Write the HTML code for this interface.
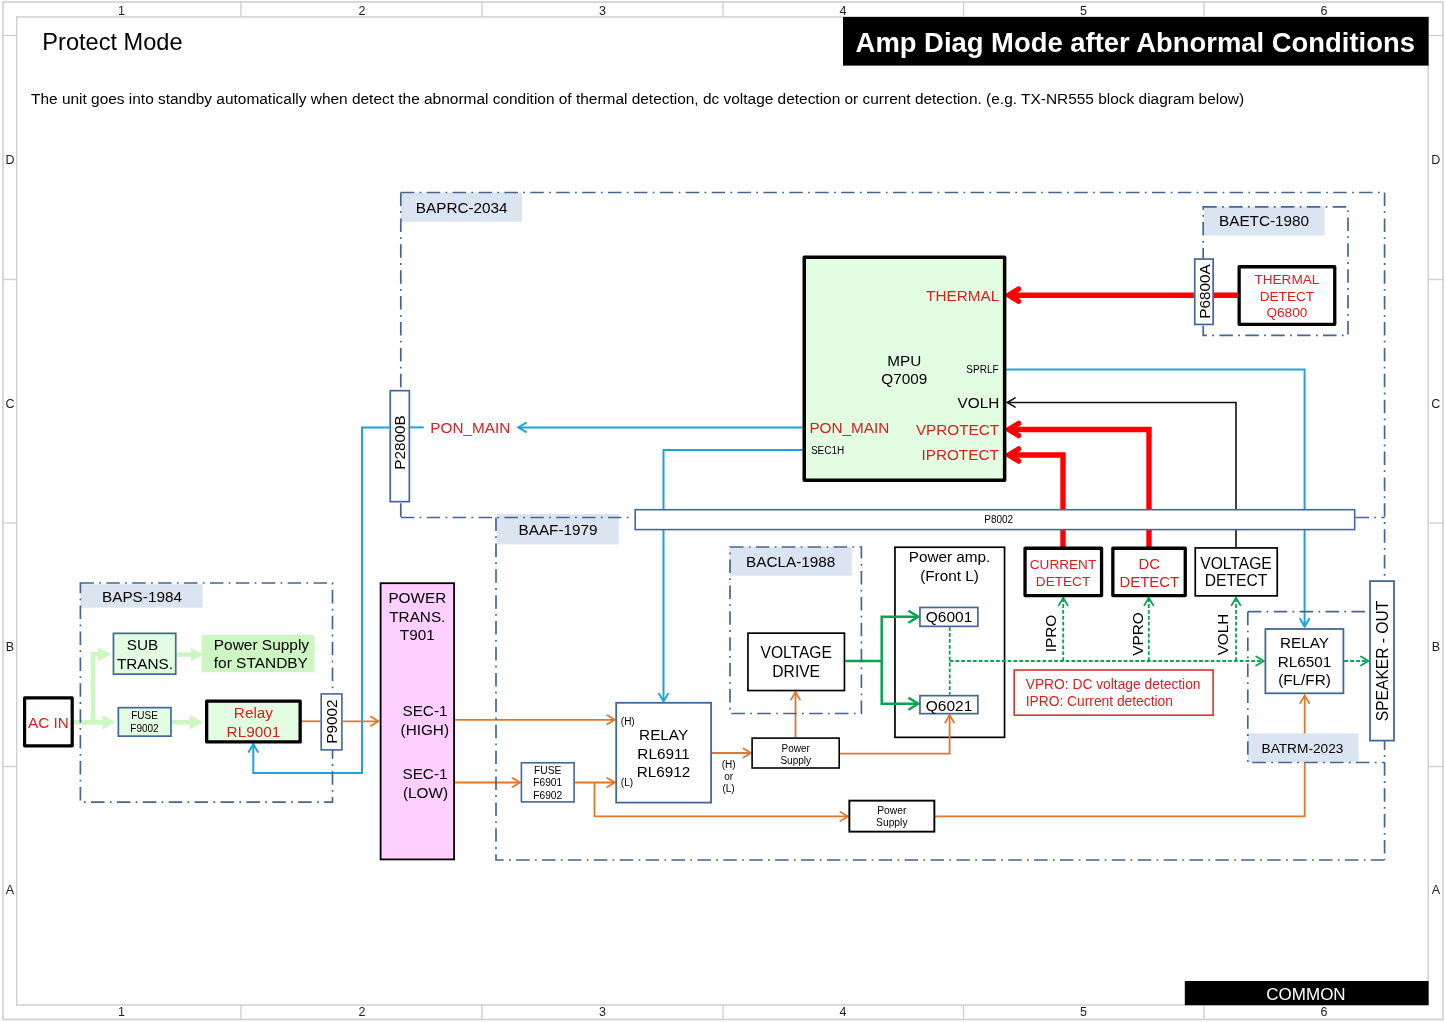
<!DOCTYPE html>
<html><head><meta charset="utf-8"><title>Protect Mode</title>
<style>
html,body{margin:0;padding:0;background:#fff;width:1445px;height:1022px;overflow:hidden;}
svg{display:block;will-change:transform;}
text{font-family:"Liberation Sans", sans-serif;}
</style></head><body>
<svg width="1445" height="1022" viewBox="0 0 1445 1022">
<rect x="0" y="0" width="1445" height="1022" fill="#fff"/>

<rect x="3.00" y="2.00" width="1440.00" height="1017.50" fill="none" stroke="#d0d0d0" stroke-width="1.6" />
<rect x="16.70" y="16.90" width="1411.50" height="988.10" fill="none" stroke="#d0d0d0" stroke-width="1.5" />
<line x1="241" y1="2" x2="241" y2="16.9" stroke="#d0d0d0" stroke-width="1.4"/>
<line x1="241" y1="1005" x2="241" y2="1019.5" stroke="#d0d0d0" stroke-width="1.4"/>
<line x1="482" y1="2" x2="482" y2="16.9" stroke="#d0d0d0" stroke-width="1.4"/>
<line x1="482" y1="1005" x2="482" y2="1019.5" stroke="#d0d0d0" stroke-width="1.4"/>
<line x1="723" y1="2" x2="723" y2="16.9" stroke="#d0d0d0" stroke-width="1.4"/>
<line x1="723" y1="1005" x2="723" y2="1019.5" stroke="#d0d0d0" stroke-width="1.4"/>
<line x1="963.5" y1="2" x2="963.5" y2="16.9" stroke="#d0d0d0" stroke-width="1.4"/>
<line x1="963.5" y1="1005" x2="963.5" y2="1019.5" stroke="#d0d0d0" stroke-width="1.4"/>
<line x1="1204" y1="2" x2="1204" y2="16.9" stroke="#d0d0d0" stroke-width="1.4"/>
<line x1="1204" y1="1005" x2="1204" y2="1019.5" stroke="#d0d0d0" stroke-width="1.4"/>
<line x1="3" y1="35.5" x2="16.7" y2="35.5" stroke="#d0d0d0" stroke-width="1.4"/>
<line x1="1428.6" y1="35.5" x2="1443" y2="35.5" stroke="#d0d0d0" stroke-width="1.4"/>
<line x1="3" y1="279.5" x2="16.7" y2="279.5" stroke="#d0d0d0" stroke-width="1.4"/>
<line x1="1428.6" y1="279.5" x2="1443" y2="279.5" stroke="#d0d0d0" stroke-width="1.4"/>
<line x1="3" y1="523" x2="16.7" y2="523" stroke="#d0d0d0" stroke-width="1.4"/>
<line x1="1428.6" y1="523" x2="1443" y2="523" stroke="#d0d0d0" stroke-width="1.4"/>
<line x1="3" y1="766.5" x2="16.7" y2="766.5" stroke="#d0d0d0" stroke-width="1.4"/>
<line x1="1428.6" y1="766.5" x2="1443" y2="766.5" stroke="#d0d0d0" stroke-width="1.4"/>
<rect x="843.00" y="17.00" width="585.60" height="48.60" fill="#000"/>
<rect x="1184.80" y="981.00" width="243.80" height="24.20" fill="#000"/>
<rect x="400.80" y="192.50" width="121.20" height="29.30" fill="#dbe5f1"/>
<rect x="1204.00" y="206.80" width="120.70" height="28.80" fill="#dbe5f1"/>
<rect x="497.00" y="514.00" width="121.80" height="30.40" fill="#dbe5f1"/>
<rect x="80.40" y="584.20" width="122.20" height="23.50" fill="#dbe5f1"/>
<rect x="730.00" y="547.00" width="121.80" height="28.70" fill="#dbe5f1"/>
<rect x="201.80" y="634.90" width="112.70" height="37.40" fill="#cdf6c2"/>
<rect x="894.95" y="547.25" width="109.60" height="190.10" fill="#fff" stroke="#000" stroke-width="1.7" stroke-linejoin="miter"/>
<polyline points="802.60,427.40 519.00,427.40" fill="none" stroke="#1ea3dd" stroke-width="2" stroke-linecap="butt" stroke-linejoin="miter"/>
<polyline points="525.90,422.90 518.30,427.40 525.90,431.90" fill="none" stroke="#1ea3dd" stroke-width="2" stroke-linecap="round" stroke-linejoin="miter"/>
<polyline points="410.20,427.40 423.80,427.40" fill="none" stroke="#1ea3dd" stroke-width="2" stroke-linecap="butt" stroke-linejoin="miter"/>
<polyline points="389.40,427.40 362.00,427.40 362.00,773.00 253.30,773.00 253.30,744.50" fill="none" stroke="#1ea3dd" stroke-width="2" stroke-linecap="butt" stroke-linejoin="miter"/>
<polyline points="248.80,751.80 253.30,744.20 257.80,751.80" fill="none" stroke="#1ea3dd" stroke-width="2" stroke-linecap="round" stroke-linejoin="miter"/>
<polyline points="802.60,450.00 663.50,450.00 663.50,701.00" fill="none" stroke="#1ea3dd" stroke-width="2" stroke-linecap="butt" stroke-linejoin="miter"/>
<polyline points="659.00,693.80 663.50,701.40 668.00,693.80" fill="none" stroke="#1ea3dd" stroke-width="2" stroke-linecap="round" stroke-linejoin="miter"/>
<polyline points="1193.90,295.20 1009.00,295.20" fill="none" stroke="#ff0000" stroke-width="5.5" stroke-linecap="butt" stroke-linejoin="miter"/>
<polyline points="1214.00,295.20 1237.50,295.20" fill="none" stroke="#ff0000" stroke-width="5.5" stroke-linecap="butt" stroke-linejoin="miter"/>
<polyline points="1018.60,289.10 1008.60,295.20 1018.60,301.30" fill="none" stroke="#ff0000" stroke-width="5.3" stroke-linecap="round" stroke-linejoin="miter"/>
<polyline points="1006.40,369.50 1304.60,369.50 1304.60,626.00" fill="none" stroke="#1ea3dd" stroke-width="2" stroke-linecap="butt" stroke-linejoin="miter"/>
<polyline points="1300.10,618.90 1304.60,626.50 1309.10,618.90" fill="none" stroke="#1ea3dd" stroke-width="2" stroke-linecap="round" stroke-linejoin="miter"/>
<polyline points="1236.00,547.10 1236.00,402.50 1007.50,402.50" fill="none" stroke="#111" stroke-width="1.6" stroke-linecap="butt" stroke-linejoin="miter"/>
<polyline points="1015.10,397.90 1007.30,402.50 1015.10,407.10" fill="none" stroke="#111" stroke-width="1.6" stroke-linecap="round" stroke-linejoin="miter"/>
<polyline points="1149.00,547.10 1149.00,429.50 1009.00,429.50" fill="none" stroke="#ff0000" stroke-width="5.4" stroke-linecap="butt" stroke-linejoin="miter"/>
<polyline points="1018.60,423.40 1008.60,429.50 1018.60,435.60" fill="none" stroke="#ff0000" stroke-width="5.3" stroke-linecap="round" stroke-linejoin="miter"/>
<polyline points="1063.00,547.10 1063.00,455.00 1009.00,455.00" fill="none" stroke="#ff0000" stroke-width="5.4" stroke-linecap="butt" stroke-linejoin="miter"/>
<polyline points="1018.60,448.90 1008.60,455.00 1018.60,461.10" fill="none" stroke="#ff0000" stroke-width="5.3" stroke-linecap="round" stroke-linejoin="miter"/>
<polyline points="73.20,722.30 102.50,722.30" fill="none" stroke="#cdf7c2" stroke-width="4.6" stroke-linecap="butt" stroke-linejoin="miter"/>
<polygon points="102.30,715.10 115.80,722.30 102.30,729.50" fill="#cdf7c2"/>
<polyline points="92.90,722.30 92.90,654.20 98.00,654.20" fill="none" stroke="#cdf7c2" stroke-width="4.6" stroke-linecap="butt" stroke-linejoin="miter"/>
<polygon points="97.90,647.20 111.50,654.20 97.90,661.20" fill="#cdf7c2"/>
<polyline points="176.60,654.50 191.00,654.50" fill="none" stroke="#cdf7c2" stroke-width="4.6" stroke-linecap="butt" stroke-linejoin="miter"/>
<polygon points="190.80,647.70 203.80,654.50 190.80,661.30" fill="#cdf7c2"/>
<polyline points="171.80,722.30 190.50,722.30" fill="none" stroke="#cdf7c2" stroke-width="4.6" stroke-linecap="butt" stroke-linejoin="miter"/>
<polygon points="190.00,715.10 203.50,722.30 190.00,729.50" fill="#cdf7c2"/>
<polyline points="301.80,721.30 320.40,721.30" fill="none" stroke="#e2772a" stroke-width="1.8" stroke-linecap="butt" stroke-linejoin="miter"/>
<polyline points="342.70,721.30 378.00,721.30" fill="none" stroke="#e2772a" stroke-width="1.8" stroke-linecap="butt" stroke-linejoin="miter"/>
<polyline points="370.90,716.80 378.50,721.30 370.90,725.80" fill="none" stroke="#e2772a" stroke-width="1.8" stroke-linecap="round" stroke-linejoin="miter"/>
<polyline points="454.70,719.80 614.50,719.80" fill="none" stroke="#e2772a" stroke-width="1.8" stroke-linecap="butt" stroke-linejoin="miter"/>
<polyline points="607.20,715.30 614.80,719.80 607.20,724.30" fill="none" stroke="#e2772a" stroke-width="1.8" stroke-linecap="round" stroke-linejoin="miter"/>
<polyline points="454.70,782.50 519.50,782.50" fill="none" stroke="#e2772a" stroke-width="1.8" stroke-linecap="butt" stroke-linejoin="miter"/>
<polyline points="512.40,778.00 520.00,782.50 512.40,787.00" fill="none" stroke="#e2772a" stroke-width="1.8" stroke-linecap="round" stroke-linejoin="miter"/>
<polyline points="574.90,782.50 614.50,782.50" fill="none" stroke="#e2772a" stroke-width="1.8" stroke-linecap="butt" stroke-linejoin="miter"/>
<polyline points="607.20,778.00 614.80,782.50 607.20,787.00" fill="none" stroke="#e2772a" stroke-width="1.8" stroke-linecap="round" stroke-linejoin="miter"/>
<polyline points="594.50,782.50 594.50,816.40 847.50,816.40" fill="none" stroke="#e2772a" stroke-width="1.8" stroke-linecap="butt" stroke-linejoin="miter"/>
<polyline points="840.40,811.90 848.00,816.40 840.40,820.90" fill="none" stroke="#e2772a" stroke-width="1.8" stroke-linecap="round" stroke-linejoin="miter"/>
<polyline points="712.00,753.00 750.50,753.00" fill="none" stroke="#e2772a" stroke-width="1.8" stroke-linecap="butt" stroke-linejoin="miter"/>
<polyline points="743.40,748.50 751.00,753.00 743.40,757.50" fill="none" stroke="#e2772a" stroke-width="1.8" stroke-linecap="round" stroke-linejoin="miter"/>
<polyline points="795.50,737.30 795.50,692.50" fill="none" stroke="#e2772a" stroke-width="1.8" stroke-linecap="butt" stroke-linejoin="miter"/>
<polyline points="791.00,699.60 795.50,692.00 800.00,699.60" fill="none" stroke="#e2772a" stroke-width="1.8" stroke-linecap="round" stroke-linejoin="miter"/>
<polyline points="840.00,753.70 949.60,753.70 949.60,715.50" fill="none" stroke="#e2772a" stroke-width="1.8" stroke-linecap="butt" stroke-linejoin="miter"/>
<polyline points="945.10,722.60 949.60,715.00 954.10,722.60" fill="none" stroke="#e2772a" stroke-width="1.8" stroke-linecap="round" stroke-linejoin="miter"/>
<polyline points="934.90,816.40 1304.70,816.40 1304.70,696.00" fill="none" stroke="#e2772a" stroke-width="1.8" stroke-linecap="butt" stroke-linejoin="miter"/>
<polyline points="1300.20,703.10 1304.70,695.50 1309.20,703.10" fill="none" stroke="#e2772a" stroke-width="1.8" stroke-linecap="round" stroke-linejoin="miter"/>
<polyline points="845.30,661.00 881.70,661.00" fill="none" stroke="#00a651" stroke-width="2.5" stroke-linecap="butt" stroke-linejoin="miter"/>
<polyline points="917.50,616.80 881.70,616.80 881.70,703.80 917.50,703.80" fill="none" stroke="#00a651" stroke-width="2.5" stroke-linecap="butt" stroke-linejoin="miter"/>
<polyline points="909.30,611.30 918.30,616.80 909.30,622.30" fill="none" stroke="#00a651" stroke-width="2.5" stroke-linecap="round" stroke-linejoin="miter"/>
<polyline points="909.30,698.30 918.30,703.80 909.30,709.30" fill="none" stroke="#00a651" stroke-width="2.5" stroke-linecap="round" stroke-linejoin="miter"/>
<polyline points="949.70,627.20 949.70,694.80" fill="none" stroke="#00a651" stroke-width="1.8" stroke-linecap="butt" stroke-linejoin="miter" stroke-dasharray="3.8 2.1"/>
<polyline points="949.70,661.00 1263.00,661.00" fill="none" stroke="#00a651" stroke-width="1.8" stroke-linecap="butt" stroke-linejoin="miter" stroke-dasharray="3.7 2.1"/>
<polyline points="1256.20,656.50 1263.80,661.00 1256.20,665.50" fill="none" stroke="#00a651" stroke-width="1.8" stroke-linecap="round" stroke-linejoin="miter"/>
<polyline points="1063.20,661.00 1063.20,598.00" fill="none" stroke="#00a651" stroke-width="1.8" stroke-linecap="butt" stroke-linejoin="miter" stroke-dasharray="3.8 2.1"/>
<polyline points="1058.70,605.40 1063.20,597.80 1067.70,605.40" fill="none" stroke="#00a651" stroke-width="1.8" stroke-linecap="round" stroke-linejoin="miter"/>
<polyline points="1148.80,661.00 1148.80,598.00" fill="none" stroke="#00a651" stroke-width="1.8" stroke-linecap="butt" stroke-linejoin="miter" stroke-dasharray="3.8 2.1"/>
<polyline points="1144.30,605.40 1148.80,597.80 1153.30,605.40" fill="none" stroke="#00a651" stroke-width="1.8" stroke-linecap="round" stroke-linejoin="miter"/>
<polyline points="1236.00,661.00 1236.00,598.00" fill="none" stroke="#00a651" stroke-width="1.8" stroke-linecap="butt" stroke-linejoin="miter" stroke-dasharray="3.8 2.1"/>
<polyline points="1231.50,605.40 1236.00,597.80 1240.50,605.40" fill="none" stroke="#00a651" stroke-width="1.8" stroke-linecap="round" stroke-linejoin="miter"/>
<polyline points="1344.30,661.00 1368.00,661.00" fill="none" stroke="#00a651" stroke-width="1.8" stroke-linecap="butt" stroke-linejoin="miter" stroke-dasharray="3.8 2.1"/>
<polyline points="1360.90,656.50 1368.50,661.00 1360.90,665.50" fill="none" stroke="#00a651" stroke-width="1.8" stroke-linecap="round" stroke-linejoin="miter"/>
<rect x="1247.80" y="733.30" width="110.90" height="29.20" fill="#dbe5f1"/>
<polyline points="400.80,192.50 1384.60,192.50" fill="none" stroke="#46668f" stroke-width="1.7" stroke-linecap="butt" stroke-linejoin="miter" stroke-dasharray="13.5 5.3 1.8 5.3"/>
<polyline points="400.80,192.50 400.80,517.50" fill="none" stroke="#46668f" stroke-width="1.7" stroke-linecap="butt" stroke-linejoin="miter" stroke-dasharray="13.5 5.3 1.8 5.3"/>
<polyline points="1384.60,192.50 1384.60,860.00" fill="none" stroke="#46668f" stroke-width="1.7" stroke-linecap="butt" stroke-linejoin="miter" stroke-dasharray="13.5 5.3 1.8 5.3"/>
<polyline points="400.80,517.50 634.50,517.50" fill="none" stroke="#46668f" stroke-width="1.7" stroke-linecap="butt" stroke-linejoin="miter" stroke-dasharray="13.5 5.3 1.8 5.3"/>
<polyline points="1355.50,517.50 1384.60,517.50" fill="none" stroke="#46668f" stroke-width="1.7" stroke-linecap="butt" stroke-linejoin="miter" stroke-dasharray="13.5 5.3 1.8 5.3"/>
<rect x="1203.2" y="206.8" width="144.80" height="128.60" fill="none" stroke="#46668f" stroke-width="1.7" stroke-dasharray="13.5 5.3 1.8 5.3"/>
<polyline points="496.00,517.50 496.00,860.00 1384.60,860.00" fill="none" stroke="#46668f" stroke-width="1.7" stroke-linecap="butt" stroke-linejoin="miter" stroke-dasharray="13.5 5.3 1.8 5.3"/>
<rect x="80.4" y="583" width="252.10" height="219.20" fill="none" stroke="#46668f" stroke-width="1.7" stroke-dasharray="13.5 5.3 1.8 5.3"/>
<rect x="730" y="547" width="131.40" height="166.50" fill="none" stroke="#46668f" stroke-width="1.7" stroke-dasharray="13.5 5.3 1.8 5.3"/>
<polyline points="1247.80,611.70 1369.00,611.70" fill="none" stroke="#46668f" stroke-width="1.7" stroke-linecap="butt" stroke-linejoin="miter" stroke-dasharray="13.5 5.3 1.8 5.3"/>
<polyline points="1247.80,611.70 1247.80,762.50 1384.60,762.50" fill="none" stroke="#46668f" stroke-width="1.7" stroke-linecap="butt" stroke-linejoin="miter" stroke-dasharray="13.5 5.3 1.8 5.3"/>
<rect x="804.25" y="257.35" width="200.40" height="222.80" fill="#e3fde2" stroke="#000" stroke-width="3.5" stroke-linejoin="round"/>
<rect x="390.25" y="390.65" width="19.10" height="111.00" fill="#fff" stroke="#43679a" stroke-width="1.7" stroke-linejoin="miter"/>
<rect x="1194.75" y="259.05" width="18.40" height="65.40" fill="#fff" stroke="#43679a" stroke-width="1.7" stroke-linejoin="miter"/>
<rect x="1239.15" y="266.75" width="95.60" height="57.60" fill="#fff" stroke="#000" stroke-width="3.3" stroke-linejoin="round"/>
<rect x="635.20" y="509.70" width="719.50" height="19.90" fill="#fff" stroke="#43679a" stroke-width="1.6" stroke-linejoin="miter"/>
<rect x="24.60" y="697.90" width="47.60" height="47.90" fill="#fff" stroke="#000" stroke-width="3.2" stroke-linejoin="round"/>
<rect x="113.45" y="633.35" width="62.30" height="40.80" fill="#e3fde2" stroke="#43679a" stroke-width="1.7" stroke-linejoin="miter"/>
<rect x="118.35" y="707.65" width="52.60" height="28.50" fill="#e3fde2" stroke="#43679a" stroke-width="1.7" stroke-linejoin="miter"/>
<rect x="206.65" y="701.15" width="93.50" height="40.80" fill="#e3fde2" stroke="#000" stroke-width="3.3" stroke-linejoin="round"/>
<rect x="321.20" y="693.90" width="20.70" height="56.00" fill="#fff" stroke="#43679a" stroke-width="1.6" stroke-linejoin="miter"/>
<rect x="380.60" y="583.20" width="73.50" height="276.20" fill="#ffd0ff" stroke="#000" stroke-width="1.8" stroke-linejoin="miter"/>
<rect x="616.20" y="702.80" width="94.90" height="99.80" fill="#fff" stroke="#43679a" stroke-width="1.8" stroke-linejoin="miter"/>
<rect x="521.40" y="762.80" width="52.70" height="39.10" fill="#fff" stroke="#43679a" stroke-width="1.6" stroke-linejoin="miter"/>
<rect x="752.10" y="738.10" width="87.10" height="29.90" fill="#fff" stroke="#000" stroke-width="1.6" stroke-linejoin="miter"/>
<rect x="849.35" y="800.65" width="85.00" height="31.00" fill="#fff" stroke="#000" stroke-width="1.9" stroke-linejoin="miter"/>
<rect x="747.95" y="633.15" width="96.50" height="57.40" fill="#fff" stroke="#000" stroke-width="1.7" stroke-linejoin="miter"/>
<rect x="919.95" y="607.45" width="57.90" height="18.90" fill="#fff" stroke="#43679a" stroke-width="1.7" stroke-linejoin="miter"/>
<rect x="919.95" y="695.65" width="57.90" height="18.00" fill="#fff" stroke="#43679a" stroke-width="1.7" stroke-linejoin="miter"/>
<rect x="1025.05" y="548.25" width="76.50" height="47.30" fill="#fff" stroke="#000" stroke-width="3.3" stroke-linejoin="round"/>
<rect x="1112.85" y="548.25" width="72.40" height="47.30" fill="#fff" stroke="#000" stroke-width="3.3" stroke-linejoin="round"/>
<rect x="1195.25" y="547.95" width="82.00" height="47.90" fill="#fff" stroke="#000" stroke-width="1.7" stroke-linejoin="miter"/>
<rect x="1014.20" y="670.00" width="198.90" height="45.20" fill="#fff" stroke="#d83333" stroke-width="1.6" stroke-linejoin="miter"/>
<rect x="1265.40" y="629.00" width="78.00" height="64.30" fill="#fff" stroke="#43679a" stroke-width="1.8" stroke-linejoin="miter"/>
<rect x="1370.00" y="581.10" width="24.00" height="159.50" fill="#fff" stroke="#43679a" stroke-width="1.8" stroke-linejoin="miter"/>
<text x="121.50" y="14.60" font-size="12.5" text-anchor="middle" fill="#222" font-weight="normal" >1</text>
<text x="121.50" y="1016.40" font-size="12.5" text-anchor="middle" fill="#222" font-weight="normal" >1</text>
<text x="362.00" y="14.60" font-size="12.5" text-anchor="middle" fill="#222" font-weight="normal" >2</text>
<text x="362.00" y="1016.40" font-size="12.5" text-anchor="middle" fill="#222" font-weight="normal" >2</text>
<text x="602.50" y="14.60" font-size="12.5" text-anchor="middle" fill="#222" font-weight="normal" >3</text>
<text x="602.50" y="1016.40" font-size="12.5" text-anchor="middle" fill="#222" font-weight="normal" >3</text>
<text x="843.00" y="14.60" font-size="12.5" text-anchor="middle" fill="#222" font-weight="normal" >4</text>
<text x="843.00" y="1016.40" font-size="12.5" text-anchor="middle" fill="#222" font-weight="normal" >4</text>
<text x="1083.50" y="14.60" font-size="12.5" text-anchor="middle" fill="#222" font-weight="normal" >5</text>
<text x="1083.50" y="1016.40" font-size="12.5" text-anchor="middle" fill="#222" font-weight="normal" >5</text>
<text x="1324.00" y="14.60" font-size="12.5" text-anchor="middle" fill="#222" font-weight="normal" >6</text>
<text x="1324.00" y="1016.40" font-size="12.5" text-anchor="middle" fill="#222" font-weight="normal" >6</text>
<text x="9.90" y="163.80" font-size="12.5" text-anchor="middle" fill="#222" font-weight="normal" >D</text>
<text x="1435.80" y="163.80" font-size="12.5" text-anchor="middle" fill="#222" font-weight="normal" >D</text>
<text x="9.90" y="407.60" font-size="12.5" text-anchor="middle" fill="#222" font-weight="normal" >C</text>
<text x="1435.80" y="407.60" font-size="12.5" text-anchor="middle" fill="#222" font-weight="normal" >C</text>
<text x="9.90" y="651.00" font-size="12.5" text-anchor="middle" fill="#222" font-weight="normal" >B</text>
<text x="1435.80" y="651.00" font-size="12.5" text-anchor="middle" fill="#222" font-weight="normal" >B</text>
<text x="9.90" y="894.30" font-size="12.5" text-anchor="middle" fill="#222" font-weight="normal" >A</text>
<text x="1435.80" y="894.30" font-size="12.5" text-anchor="middle" fill="#222" font-weight="normal" >A</text>
<text x="42.30" y="49.80" font-size="23.6" text-anchor="start" fill="#000" font-weight="normal" >Protect Mode</text>
<text x="855.60" y="51.90" font-size="27.42" text-anchor="start" fill="#fff" font-weight="bold" >Amp Diag Mode after Abnormal Conditions</text>
<text x="31.00" y="103.50" font-size="15.445" text-anchor="start" fill="#000" font-weight="normal" >The unit goes into standby automatically when detect the abnormal condition of thermal detection, dc voltage detection or current detection. (e.g. TX-NR555 block diagram below)</text>
<text x="1306.00" y="999.70" font-size="17" text-anchor="middle" fill="#fff" font-weight="normal" >COMMON</text>
<text x="415.80" y="212.60" font-size="15.3" text-anchor="start" fill="#000" font-weight="normal" >BAPRC-2034</text>
<text x="1219.00" y="225.80" font-size="15.3" text-anchor="start" fill="#000" font-weight="normal" >BAETC-1980</text>
<text x="518.50" y="534.70" font-size="15.3" text-anchor="start" fill="#000" font-weight="normal" >BAAF-1979</text>
<text x="102.00" y="602.30" font-size="15.3" text-anchor="start" fill="#000" font-weight="normal" >BAPS-1984</text>
<text x="746.00" y="566.60" font-size="15.3" text-anchor="start" fill="#000" font-weight="normal" >BACLA-1988</text>
<text x="904.30" y="365.50" font-size="15.3" text-anchor="middle" fill="#000" font-weight="normal" >MPU</text>
<text x="904.30" y="383.70" font-size="15.3" text-anchor="middle" fill="#000" font-weight="normal" >Q7009</text>
<text x="999.20" y="301.40" font-size="15.3" text-anchor="end" fill="#d9201f" font-weight="normal" >THERMAL</text>
<text x="998.60" y="373.40" font-size="10" text-anchor="end" fill="#000" font-weight="normal" >SPRLF</text>
<text x="999.20" y="408.00" font-size="15.3" text-anchor="end" fill="#000" font-weight="normal" >VOLH</text>
<text x="809.40" y="433.10" font-size="15.3" text-anchor="start" fill="#d9201f" font-weight="normal" >PON_MAIN</text>
<text x="999.20" y="434.80" font-size="15.3" text-anchor="end" fill="#d9201f" font-weight="normal" >VPROTECT</text>
<text x="810.90" y="453.90" font-size="10" text-anchor="start" fill="#000" font-weight="normal" >SEC1H</text>
<text x="998.80" y="460.00" font-size="15.3" text-anchor="end" fill="#d9201f" font-weight="normal" >IPROTECT</text>
<text transform="translate(405.20,442.60) rotate(-90)" font-size="15.3" text-anchor="middle" fill="#000">P2800B</text>
<text x="430.30" y="433.30" font-size="15.3" text-anchor="start" fill="#d9201f" font-weight="normal" >PON_MAIN</text>
<text transform="translate(1209.50,291.50) rotate(-90)" font-size="15.3" text-anchor="middle" fill="#000">P6800A</text>
<text x="1286.90" y="283.80" font-size="13.6" text-anchor="middle" fill="#d9201f" font-weight="normal" >THERMAL</text>
<text x="1286.90" y="300.70" font-size="13.6" text-anchor="middle" fill="#d9201f" font-weight="normal" >DETECT</text>
<text x="1286.90" y="317.10" font-size="13.6" text-anchor="middle" fill="#d9201f" font-weight="normal" >Q6800</text>
<text x="998.70" y="523.30" font-size="10" text-anchor="middle" fill="#000" font-weight="normal" >P8002</text>
<text x="48.40" y="728.20" font-size="15.3" text-anchor="middle" fill="#d9201f" font-weight="normal" >AC IN</text>
<text x="142.60" y="650.20" font-size="15.3" text-anchor="middle" fill="#000" font-weight="normal" >SUB</text>
<text x="145.00" y="668.80" font-size="15.3" text-anchor="middle" fill="#000" font-weight="normal" >TRANS.</text>
<text x="213.80" y="649.70" font-size="15.45" text-anchor="start" fill="#000" font-weight="normal" >Power Supply</text>
<text x="213.80" y="668.30" font-size="15.45" text-anchor="start" fill="#000" font-weight="normal" >for STANDBY</text>
<text x="144.50" y="719.40" font-size="10" text-anchor="middle" fill="#000" font-weight="normal" >FUSE</text>
<text x="144.50" y="731.80" font-size="10" text-anchor="middle" fill="#000" font-weight="normal" >F9002</text>
<text x="253.40" y="718.20" font-size="15.3" text-anchor="middle" fill="#d9201f" font-weight="normal" >Relay</text>
<text x="253.40" y="736.60" font-size="15.3" text-anchor="middle" fill="#d9201f" font-weight="normal" >RL9001</text>
<text transform="translate(337.20,721.70) rotate(-90)" font-size="15.3" text-anchor="middle" fill="#000">P9002</text>
<text x="417.30" y="603.30" font-size="15.3" text-anchor="middle" fill="#000" font-weight="normal" >POWER</text>
<text x="417.30" y="621.80" font-size="15.3" text-anchor="middle" fill="#000" font-weight="normal" >TRANS.</text>
<text x="417.30" y="640.40" font-size="15.3" text-anchor="middle" fill="#000" font-weight="normal" >T901</text>
<text x="447.50" y="716.10" font-size="15.3" text-anchor="end" fill="#000" font-weight="normal" >SEC-1</text>
<text x="449.00" y="735.00" font-size="15.3" text-anchor="end" fill="#000" font-weight="normal" >(HIGH)</text>
<text x="447.50" y="778.60" font-size="15.3" text-anchor="end" fill="#000" font-weight="normal" >SEC-1</text>
<text x="448.00" y="797.50" font-size="15.3" text-anchor="end" fill="#000" font-weight="normal" >(LOW)</text>
<text x="663.60" y="740.00" font-size="15.3" text-anchor="middle" fill="#000" font-weight="normal" >RELAY</text>
<text x="663.60" y="758.60" font-size="15.3" text-anchor="middle" fill="#000" font-weight="normal" >RL6911</text>
<text x="663.60" y="777.20" font-size="15.3" text-anchor="middle" fill="#000" font-weight="normal" >RL6912</text>
<text x="620.80" y="724.50" font-size="10" text-anchor="start" fill="#000" font-weight="normal" >(H)</text>
<text x="620.80" y="786.30" font-size="10" text-anchor="start" fill="#000" font-weight="normal" >(L)</text>
<text x="547.70" y="774.20" font-size="10.2" text-anchor="middle" fill="#000" font-weight="normal" >FUSE</text>
<text x="547.70" y="786.40" font-size="10.2" text-anchor="middle" fill="#000" font-weight="normal" >F6901</text>
<text x="547.70" y="798.60" font-size="10.2" text-anchor="middle" fill="#000" font-weight="normal" >F6902</text>
<text x="949.50" y="562.20" font-size="15.3" text-anchor="middle" fill="#000" font-weight="normal" >Power amp.</text>
<text x="949.50" y="580.50" font-size="15.3" text-anchor="middle" fill="#000" font-weight="normal" >(Front L)</text>
<text x="795.70" y="751.60" font-size="10" text-anchor="middle" fill="#000" font-weight="normal" >Power</text>
<text x="795.70" y="764.00" font-size="10" text-anchor="middle" fill="#000" font-weight="normal" >Supply</text>
<text x="728.60" y="768.00" font-size="10" text-anchor="middle" fill="#000" font-weight="normal" >(H)</text>
<text x="728.60" y="780.00" font-size="10" text-anchor="middle" fill="#000" font-weight="normal" >or</text>
<text x="728.60" y="792.30" font-size="10" text-anchor="middle" fill="#000" font-weight="normal" >(L)</text>
<text x="891.80" y="813.50" font-size="10.3" text-anchor="middle" fill="#000" font-weight="normal" >Power</text>
<text x="891.80" y="826.30" font-size="10.3" text-anchor="middle" fill="#000" font-weight="normal" >Supply</text>
<text x="1261.50" y="752.90" font-size="13.7" text-anchor="start" fill="#000" font-weight="normal" >BATRM-2023</text>
<text x="796.20" y="657.90" font-size="15.6" text-anchor="middle" fill="#000" font-weight="normal" >VOLTAGE</text>
<text x="796.20" y="676.80" font-size="15.6" text-anchor="middle" fill="#000" font-weight="normal" >DRIVE</text>
<text x="949.00" y="622.20" font-size="15.5" text-anchor="middle" fill="#000" font-weight="normal" >Q6001</text>
<text x="949.00" y="710.60" font-size="15.5" text-anchor="middle" fill="#000" font-weight="normal" >Q6021</text>
<text x="1063.00" y="569.20" font-size="13.6" text-anchor="middle" fill="#d9201f" font-weight="normal" >CURRENT</text>
<text x="1063.00" y="585.80" font-size="13.6" text-anchor="middle" fill="#d9201f" font-weight="normal" >DETECT</text>
<text x="1149.30" y="568.60" font-size="14.9" text-anchor="middle" fill="#d9201f" font-weight="normal" >DC</text>
<text x="1149.30" y="587.00" font-size="14.9" text-anchor="middle" fill="#d9201f" font-weight="normal" >DETECT</text>
<text x="1236.00" y="568.60" font-size="15.6" text-anchor="middle" fill="#000" font-weight="normal" >VOLTAGE</text>
<text x="1236.00" y="586.40" font-size="15.6" text-anchor="middle" fill="#000" font-weight="normal" >DETECT</text>
<text transform="translate(1056.40,633.50) rotate(-90)" font-size="15.3" text-anchor="middle" fill="#000">IPRO</text>
<text transform="translate(1143.20,634.00) rotate(-90)" font-size="15.3" text-anchor="middle" fill="#000">VPRO</text>
<text transform="translate(1227.80,634.50) rotate(-90)" font-size="15.3" text-anchor="middle" fill="#000">VOLH</text>
<text x="1025.70" y="689.20" font-size="13.8" text-anchor="start" fill="#d9201f" font-weight="normal" >VPRO: DC voltage detection</text>
<text x="1025.70" y="705.90" font-size="13.8" text-anchor="start" fill="#d9201f" font-weight="normal" >IPRO: Current detection</text>
<text x="1304.50" y="648.20" font-size="15.3" text-anchor="middle" fill="#000" font-weight="normal" >RELAY</text>
<text x="1304.50" y="666.80" font-size="15.3" text-anchor="middle" fill="#000" font-weight="normal" >RL6501</text>
<text x="1304.50" y="685.40" font-size="15.3" text-anchor="middle" fill="#000" font-weight="normal" >(FL/FR)</text>
<text transform="translate(1387.60,661.00) rotate(-90)" font-size="15.6" text-anchor="middle" fill="#000">SPEAKER - OUT</text>
</svg></body></html>
